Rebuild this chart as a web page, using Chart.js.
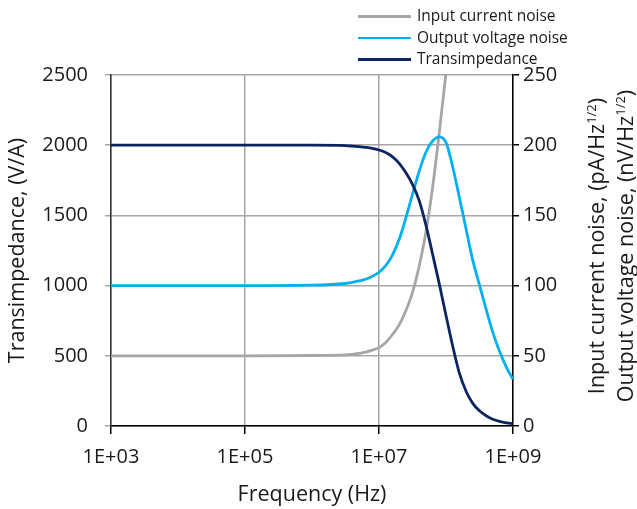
<!DOCTYPE html>
<html>
<head>
<meta charset="utf-8">
<script src="https://cdn.jsdelivr.net/npm/chart.js@4"></script>
<style>
  body { margin: 0; background: #fff; font-family: "Open Sans", sans-serif; color: #1a1a1a; }
  #wrap { position: relative; width: 637px; height: 509px; }
  #legend { position: absolute; left: 0; top: 0; font-size: 15.5px; }
  .item { position: absolute; left: 358px; height: 20px; line-height: 20px; white-space: nowrap; }
  .item span.sw { position: absolute; left: 0; top: 9px; width: 53px; height: 2.5px; }
  .item span.tx { position: absolute; left: 59px; top: -1px; }
  .rtitle { position: absolute; font-size: 21.5px; white-space: nowrap; line-height: 26px;
            transform: translate(-50%, -50%) rotate(-90deg); }
  .rtitle sup { font-size: 13px; vertical-align: 8px; line-height: 0; }
</style>
</head>
<body>
<div id="wrap">
  <canvas id="noiseChart" width="637" height="509"></canvas>
  <div id="legend"></div>
  <div class="rtitle" style="left:596px; top:246px;">Input current noise, (pA/Hz<sup>1/2</sup>)</div>
  <div class="rtitle" style="left:625px; top:246px;">Output voltage noise, (nV/Hz<sup>1/2</sup>)</div>
</div>
<script>
// frequency points (Hz), shared by all series
const freqHz = [1e3, 1e4, 1e5, 1e6,
  3.16e6, 3.98e6, 5.01e6, 6.31e6, 7.94e6,
  1e7, 1.26e7, 1.58e7, 2.0e7, 2.51e7, 3.16e7, 3.98e7, 5.01e7, 6.31e7, 7.94e7,
  1e8, 1.26e8, 1.58e8, 2.0e8, 2.51e8, 3.16e8, 3.98e8, 5.01e8, 6.31e8, 7.94e8,
  1e9];

// Transimpedance (V/A), left axis
const tzValues = [2000, 2000, 2000, 2000,
  1997, 1994, 1990, 1985, 1978,
  1966, 1948, 1919, 1871, 1805, 1721, 1605, 1432, 1223, 1012,
  787, 568, 378, 246, 161, 108, 73, 48, 33, 23,
  16];

// Output voltage noise (nV/Hz^1/2), right axis
const vnValues = [100, 100, 100, 100.3,
  101.5, 102.3, 103.3, 104.5, 106.6,
  109.5, 114.2, 121.5, 133, 148, 165, 181.5, 195, 203, 206,
  202, 184.5, 163, 140, 118, 100.5, 83, 66.5, 53, 42,
  33.3];

// Input current noise (pA/Hz^1/2), right axis; runs off the top after 1e8
const inValues = [50, 50, 50, 50.2,
  50.6, 51.0, 51.7, 52.6, 54.0,
  55.8, 59.5, 65, 72, 82, 95, 114, 138, 170, 209,
  251.5, 300];

const xTicks = [1e3, 1e5, 1e7, 1e9];

const legendItems = [
  { label: "Input current noise", color: "#a6a6a6" },
  { label: "Output voltage noise", color: "#00b0f0" },
  { label: "Transimpedance", color: "#0c2461" },
];

function pairs(ys) {
  return ys.map((y, i) => ({ x: freqHz[i], y: y }));
}

// build the html legend
const legendEl = document.getElementById("legend");
legendItems.forEach((item, i) => {
  const div = document.createElement("div");
  div.className = "item";
  div.style.top = (6 + i * 21.5) + "px";
  div.innerHTML = '<span class="sw" style="background:' + item.color + '"></span><span class="tx">' + item.label + "</span>";
  legendEl.appendChild(div);
});

const tickFont = { family: "Open Sans", size: 20 };
const titleFont = { family: "Open Sans", size: 21.5 };
const textColor = "#1a1a1a";
const gridColor = "#a6a6a6";

const ctx = document.getElementById("noiseChart").getContext("2d");
new Chart(ctx, {
  type: "scatter",
  data: {
    datasets: [
      {
        label: "Input current noise",
        data: pairs(inValues),
        borderColor: legendItems[0].color,
        yAxisID: "y1",
        order: 3,
      },
      {
        label: "Output voltage noise",
        data: pairs(vnValues),
        borderColor: legendItems[1].color,
        yAxisID: "y1",
        order: 2,
      },
      {
        label: "Transimpedance",
        data: pairs(tzValues),
        borderColor: legendItems[2].color,
        yAxisID: "y",
        order: 1,
      },
    ],
  },
  options: {
    responsive: false,
    animation: false,
    devicePixelRatio: 1,
    showLine: true,
    elements: {
      point: { radius: 0 },
      line: { borderWidth: 2.8, cubicInterpolationMode: "monotone", fill: false },
    },
    layout: { padding: { top: 75, left: 0, right: 0, bottom: 0 } },
    plugins: { legend: { display: false }, tooltip: { enabled: false } },
    scales: {
      x: {
        type: "logarithmic",
        min: 1e3,
        max: 1e9,
        afterBuildTicks: (scale) => {
          scale.ticks = xTicks.map((v) => ({ value: v }));
        },
        afterFit: (scale) => { scale.height = 83; },
        ticks: {
          font: tickFont,
          color: textColor,
          padding: 11,
          maxRotation: 0,
          callback: (v) => "1E+" + String(Math.round(Math.log10(v))).padStart(2, "0"),
        },
        grid: { color: gridColor, lineWidth: 1.5, tickLength: 8, tickColor: "#000" },
        border: { color: "#000", width: 1.5 },
        title: { display: true, text: "Frequency (Hz)", font: titleFont, color: textColor, padding: { top: 4, bottom: 1 } },
      },
      y: {
        position: "left",
        min: 0,
        max: 2500,
        afterFit: (scale) => { scale.width = 111; },
        ticks: { stepSize: 500, font: tickFont, color: textColor, padding: 17, callback: (v) => String(v) },
        grid: { color: gridColor, lineWidth: 1.5, tickLength: 6, tickColor: gridColor },
        border: { color: "#333", width: 1.5 },
        title: { display: true, text: "Transimpedance, (V/A)", font: titleFont, color: textColor, padding: { top: 5, bottom: 0 } },
      },
      y1: {
        position: "right",
        min: 0,
        max: 250,
        afterFit: (scale) => { scale.width = 124; },
        ticks: { stepSize: 50, font: tickFont, color: textColor, padding: 4, callback: (v) => String(v) },
        grid: { drawOnChartArea: false, color: "#000", lineWidth: 1.5, tickLength: 6 },
        border: { color: "#000", width: 1.5 },
      },
    },
  },
});
</script>
</body>
</html>
